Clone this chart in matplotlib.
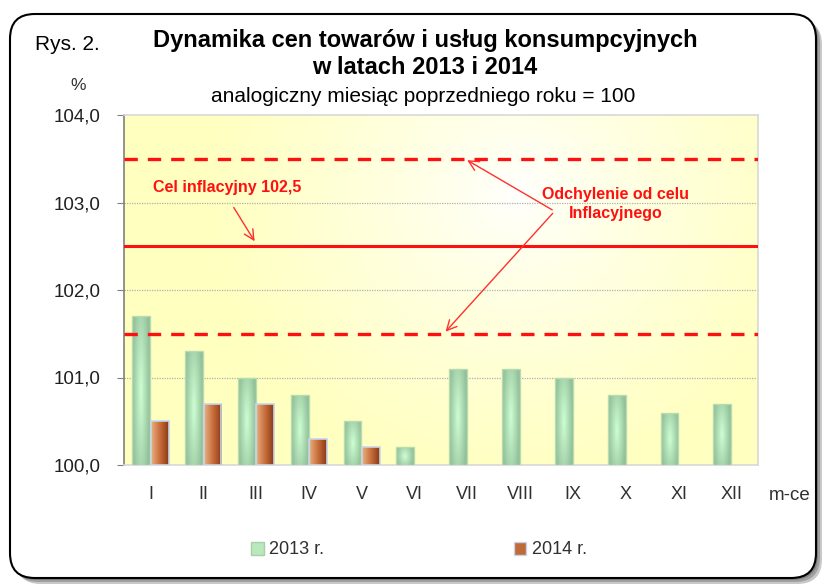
import matplotlib
matplotlib.use("Agg")
import matplotlib.pyplot as plt
import numpy as np
from matplotlib.patches import FancyBboxPatch, Patch
from matplotlib.colors import LinearSegmentedColormap

months = ["I", "II", "III", "IV", "V", "VI", "VII", "VIII", "IX", "X", "XI", "XII"]
y2013 = [101.7, 101.3, 101.0, 100.8, 100.5, 100.2, 101.1, 101.1, 101.0, 100.8, 100.6, 100.7]
y2014 = [100.5, 100.7, 100.7, 100.3, 100.2]
target = 102.5
band_low = 101.5
band_high = 103.5
yticks = [100.0, 101.0, 102.0, 103.0, 104.0]

FONT = ["Liberation Sans", "DejaVu Sans"]
plt.rcParams["font.family"] = FONT

W, H = 827, 585
fig = plt.figure(figsize=(W / 100, H / 100), dpi=100)

# outer frame with shadow
for i, (dx, col) in enumerate([(6, "#c8c8c8"), (4, "#a0a0a0"), (2, "#808080")]):
    sh = FancyBboxPatch(((10 + dx) / W, (7 - dx) / H), 806 / W, 564 / H,
                        boxstyle="round,pad=0,rounding_size=0.03",
                        transform=fig.transFigure, facecolor=col,
                        edgecolor="none", zorder=0, mutation_aspect=W / H)
    fig.patches.append(sh)
frame = FancyBboxPatch((10 / W, 7 / H), 806 / W, 564 / H,
                       boxstyle="round,pad=0,rounding_size=0.03",
                       transform=fig.transFigure, facecolor="white",
                       edgecolor="black", linewidth=1.5, zorder=1,
                       mutation_aspect=W / H)
fig.patches.append(frame)

ax = fig.add_axes([124 / W, 1 - 465 / H, (758 - 124) / W, (465 - 115) / H])
ax.set_zorder(2)
ax.set_xlim(-0.5, len(months) - 0.5)
ax.set_ylim(100, 104)

# background gradient (yellow -> white -> yellow)
gx, gy = np.meshgrid(np.linspace(0, 1, 300), np.linspace(0, 1, 200))
d = np.sqrt(((gx - 0.62) / 0.5) ** 2 + ((gy - 0.78) / 0.85) ** 2)
t = np.clip(d, 0, 1) ** 0.8
c0 = np.array([1.0, 1.0, 1.0])
c1 = np.array([1.0, 1.0, 0.75])
img = c0[None, None, :] * (1 - t[..., None]) + c1[None, None, :] * t[..., None]
ax.imshow(img, extent=[-0.5, len(months) - 0.5, 100, 104], origin="lower",
          aspect="auto", zorder=0)

# gridlines
for v in yticks[1:-1]:
    ax.axhline(v, color="#b0b0b0", linestyle=(0, (1, 1)), linewidth=0.9, zorder=1)

x = np.arange(len(months))
bw = 0.34
off = 0.175

green_cmap = LinearSegmentedColormap.from_list("g", ["#92c09a", "#cefed2"])
orange_cmap = LinearSegmentedColormap.from_list("o", ["#eab080", "#c86e3c", "#8a3a16"])

bars13 = ax.bar(x - off, np.array(y2013) - 100, bw, bottom=100,
                color="#a8d8ae", edgecolor="#b8dcb0", linewidth=1.0, zorder=3)
bars14 = ax.bar(x[:len(y2014)] + off, np.array(y2014) - 100, bw, bottom=100,
                color="#c06a38", edgecolor="#c8d4e8", linewidth=1.2, zorder=3)

hx = np.linspace(-1, 1, 40)
vy = np.linspace(-1, 1, 80)
HX, VY = np.meshgrid(hx, vy)
gval = np.clip(1 - np.sqrt(HX ** 2 + (VY ** 2) * 0.4), 0, 1)
for b in bars13:
    bx, by = b.get_x(), b.get_y()
    im = ax.imshow(gval, cmap=green_cmap, vmin=0, vmax=1, aspect="auto",
                   extent=[bx, bx + b.get_width(), by, by + b.get_height()],
                   origin="lower", zorder=3.5, interpolation="bilinear")
    im.set_clip_path(b)
oval = np.tile(np.linspace(0, 1, 40), (10, 1))
for b in bars14:
    bx, by = b.get_x(), b.get_y()
    im = ax.imshow(oval, cmap=orange_cmap, vmin=0, vmax=1, aspect="auto",
                   extent=[bx, bx + b.get_width(), by, by + b.get_height()],
                   origin="lower", zorder=3.5, interpolation="bilinear")
    im.set_clip_path(b)
for b in list(bars13) + list(bars14):
    b.set_zorder(4)
    b.set_facecolor("none")

# target lines
ax.axhline(target, color="#ff1010", linewidth=2.2, zorder=5)
ax.axhline(band_low, color="#ff1010", linewidth=2.4, linestyle=(0, (4, 3)), zorder=5)
ax.axhline(band_high, color="#ff1010", linewidth=2.4, linestyle=(0, (4, 3)), zorder=5)

ax.text(0.05, 103.17, "Cel inflacyjny 102,5", color="#ff1010", fontsize=11.5,
        fontweight="bold", zorder=6, va="center", ha="left")
ax.annotate("", xy=(2.0, target + 0.03), xytext=(1.55, 102.97),
            arrowprops=dict(arrowstyle="->", color="#ff3030", lw=1.0,
                            mutation_scale=18), zorder=6)
ax.text(8.8, 102.98, "Odchylenie od celu\nInflacyjnego", color="#ff1010",
        fontsize=11.5, fontweight="bold",
        ha="center", va="center", linespacing=1.3, zorder=6)
ax.annotate("", xy=(5.95, band_high), xytext=(7.65, 102.9),
            arrowprops=dict(arrowstyle="->", color="#ff3030", lw=1.0,
                            mutation_scale=18), zorder=6)
ax.annotate("", xy=(5.55, band_low), xytext=(7.65, 102.9),
            arrowprops=dict(arrowstyle="->", color="#ff3030", lw=1.0,
                            mutation_scale=18), zorder=6)

# axes styling
for s in ["top", "right", "bottom"]:
    ax.spines[s].set_color("#d8d8d8")
    ax.spines[s].set_linewidth(1.2)
ax.spines["left"].set_color("#808080")
ax.spines["left"].set_linewidth(1.2)
ax.set_yticks(yticks)
ax.set_yticklabels([f"{v:.1f}".replace(".", ",") for v in yticks], fontsize=13.5,
                   color="#202020")
ax.tick_params(axis="y", length=5, color="#808080", pad=12)
ax.set_xticks(x)
ax.set_xticklabels(months, fontsize=13, color="#303030")
ax.tick_params(axis="x", length=0, pad=15)

# texts
fig.text(67 / W, 1 - 45 / H, "Rys. 2.", fontsize=15, ha="center", va="center")
fig.text(425 / W, 1 - 40 / H, "Dynamika cen towarów i usług konsumpcyjnych",
         fontsize=17, fontweight="bold", ha="center", va="center")
fig.text(425 / W, 1 - 67 / H, "w latach 2013 i 2014",
         fontsize=17, fontweight="bold", ha="center", va="center")
fig.text(423 / W, 1 - 96 / H, "analogiczny miesiąc poprzedniego roku = 100",
         fontsize=15, ha="center", va="center")
fig.text(78 / W, 1 - 86 / H, "%", fontsize=12.5, ha="center", va="center",
         color="#303030")
fig.text(790 / W, 1 - 495 / H, "m-ce", fontsize=13.5, ha="center", va="center",
         color="#303030")

# legend
handles = [Patch(facecolor="#b8e8bc", edgecolor="#a8d0a8"),
           Patch(facecolor="#c06a38", edgecolor="#c8d4e8")]
leg = fig.legend(handles, ["2013 r.", "2014 r."], ncol=2, loc="center",
                 bbox_to_anchor=(419 / W, 1 - 550 / H), frameon=False,
                 fontsize=13, handlelength=0.7, handleheight=0.7,
                 handletextpad=0.3, columnspacing=10.5)
for t_ in leg.get_texts():
    t_.set_color("#303030")

fig.savefig("out.png", dpi=100)
